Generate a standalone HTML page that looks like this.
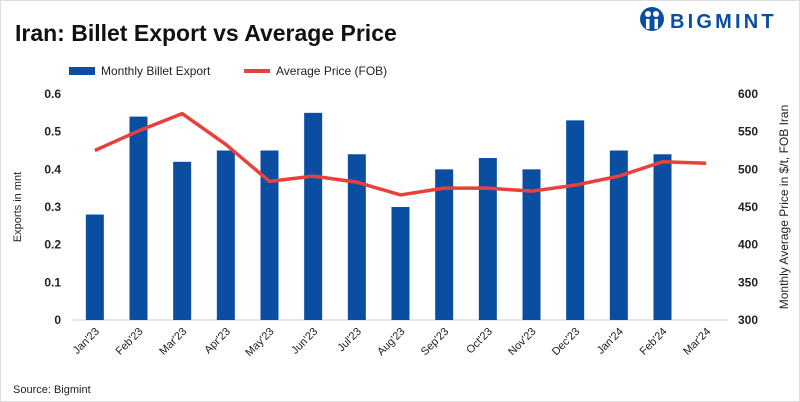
<!DOCTYPE html>
<html><head><meta charset="utf-8"><style>
body{margin:0;background:#fff;font-family:"Liberation Sans",sans-serif;}
#wrap{position:relative;width:798px;height:400px;border:1px solid #ddd;overflow:hidden;}
</style></head><body>
<div id="wrap">
<svg id="c" width="798" height="400">
<text x="14" y="40" font-size="23" font-weight="bold" fill="#111">Iran: Billet Export vs Average Price</text>
<g>
<circle cx="651" cy="18" r="12" fill="#0a4ea2"/>
<circle cx="647" cy="13" r="3" fill="#fff"/><circle cx="655" cy="13" r="3" fill="#fff"/>
<rect x="645" y="18" width="3.5" height="10" fill="#fff"/><rect x="653.5" y="18" width="3.5" height="10" fill="#fff"/>
<text x="669" y="27" font-size="20" font-weight="bold" fill="#0a4ea2" letter-spacing="3.2">BIGMINT</text>
</g>
<g>
<rect x="68" y="66" width="26" height="8" fill="#0a4ea2"/>
<text x="100" y="74" font-size="12" fill="#222">Monthly Billet Export</text>
<rect x="243" y="68" width="26" height="4" fill="#e8413c"/>
<text x="275" y="74" font-size="12" fill="#222">Average Price (FOB)</text>
</g>
<text transform="translate(20,206) rotate(-90)" text-anchor="middle" font-size="11" fill="#222">Exports in mnt</text>
<text transform="translate(787,206) rotate(-90)" text-anchor="middle" font-size="12" fill="#222">Monthly Average Price in $/t, FOB Iran</text>
<text x="12" y="392" font-size="11" fill="#222">Source: Bigmint</text>
<g id="g"></g>
</svg>
</div>
<script>
const categories=["Jan'23","Feb'23","Mar'23","Apr'23","May'23","Jun'23","Jul'23","Aug'23","Sep'23","Oct'23","Nov'23","Dec'23","Jan'24","Feb'24","Mar'24"];
const exportsMnt=[0.28,0.54,0.42,0.45,0.45,0.55,0.44,0.30,0.40,0.43,0.40,0.53,0.45,0.44,null];
const priceFob=[525,551,574,533,484,491,483,466,475,475,471,479,491,510,508];
const leftTicks=[0,0.1,0.2,0.3,0.4,0.5,0.6];
const rightTicks=[300,350,400,450,500,550,600];
const NS="http://www.w3.org/2000/svg";
const g=document.getElementById('g');
const x0=72,x1=727,yTop=93,yBot=319;
const step=(x1-x0)/categories.length;
const xc=i=>x0+step*(i+0.5);
const yL=v=>yBot-(v/0.6)*(yBot-yTop);
const yR=v=>yBot-((v-300)/300)*(yBot-yTop);
function mk(t,a){const e=document.createElementNS(NS,t);for(const k in a)e.setAttribute(k,a[k]);g.appendChild(e);return e;}
leftTicks.forEach(v=>{const t=mk('text',{x:60,y:yL(v)+4,'text-anchor':'end','font-size':12,'font-weight':'bold',fill:'#222'});t.textContent=v;

});
rightTicks.forEach(v=>{const t=mk('text',{x:737,y:yR(v)+4,'font-size':12,'font-weight':'bold',fill:'#222'});t.textContent=v;

});
const ax=mk('line',{x1:x0,x2:x1,y1:yBot,y2:yBot,stroke:'#ccc'});


exportsMnt.forEach((v,i)=>{if(v==null)return;const r=mk('rect',{x:xc(i)-9,y:yL(v),width:18,height:yBot-yL(v),fill:'#0a4ea2'});

});
const p=mk('polyline',{points:priceFob.map((v,i)=>xc(i)+','+yR(v)).join(' '),fill:'none',stroke:'#e8413c','stroke-width':3.5,'stroke-linejoin':'round'});


categories.forEach((c,i)=>{const t=mk('text',{transform:`translate(${xc(i)+5},${yBot+12}) rotate(-45)`,'text-anchor':'end','font-size':11,fill:'#222'});t.textContent=c;

});
</script>
</body></html>
